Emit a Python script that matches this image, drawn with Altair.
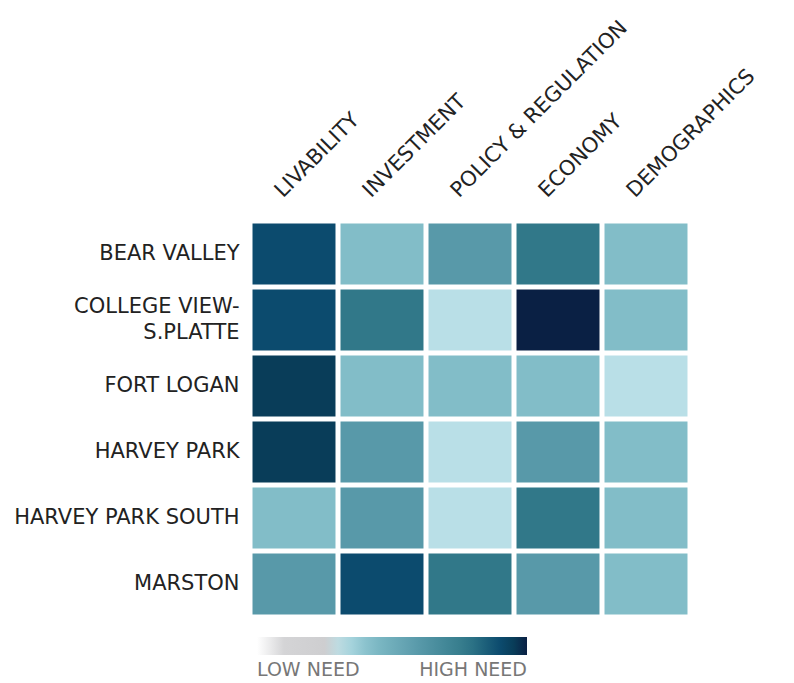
import altair as alt
import pandas as pd

neighborhoods = ["BEAR VALLEY", "COLLEGE VIEW-\nS.PLATTE", "FORT LOGAN",
                 "HARVEY PARK", "HARVEY PARK SOUTH", "MARSTON"]
dimensions = ["LIVABILITY", "INVESTMENT", "POLICY & REGULATION", "ECONOMY", "DEMOGRAPHICS"]

# need score (0 = low need, 100 = high need), read against the legend gradient
livability = [90, 90, 95, 95, 42, 60]
investment = [42, 78, 42, 60, 60, 90]
policy = [60, 31, 42, 31, 31, 78]
economy = [78, 100, 42, 60, 78, 60]
demographics = [42, 42, 31, 42, 42, 42]

series = [livability, investment, policy, economy, demographics]
rows = []
for dim, vals in zip(dimensions, series):
    for hood, v in zip(neighborhoods, vals):
        rows.append({"neighborhood": hood, "dimension": dim, "need": v})
df = pd.DataFrame(rows)

FONT = "DejaVu Sans"

color_domain = [0, 10, 27, 31, 42, 60, 78, 90, 95, 100]
color_range = ["#FFFFFF", "#D4D4D6", "#CDCDCF", "#B9DFE7", "#82BDC8", "#5899A9",
               "#317889", "#0C4B6E", "#093D59", "#0A2044"]

chart = alt.Chart(df).mark_rect().encode(
    x=alt.X("dimension:N", sort=dimensions, title=None,
            scale=alt.Scale(paddingInner=0.057, paddingOuter=0.0285),
            axis=alt.Axis(orient="top", labelAngle=-45, labelAlign="left",
                          labelBaseline="alphabetic", labelOffset=-11, labelPadding=23,
                          ticks=False, domain=False, labelFont=FONT, labelFontSize=21,
                          labelColor="#222222", labelLimit=400)),
    y=alt.Y("neighborhood:N", sort=neighborhoods, title=None,
            scale=alt.Scale(paddingInner=0.076, paddingOuter=0.038),
            axis=alt.Axis(ticks=False, domain=False, labelFont=FONT, labelFontSize=21,
                          labelColor="#222222", labelPadding=11, labelLimit=400,
                          labelLineHeight=26,
                          labelOffset={"condition": {"test": "indexof(datum.value, 'S.PLATTE') >= 0",
                                                     "value": -13}, "value": 0},
                          labelExpr="split(datum.label, '\\n')")),
    color=alt.Color("need:Q",
                    scale=alt.Scale(domain=color_domain, range=color_range, interpolate="rgb"),
                    legend=alt.Legend(orient="none", legendX=7, legendY=416,
                                      direction="horizontal", gradientLength=270,
                                      gradientThickness=18, title=None,
                                      values=[0, 100],
                                      labelExpr="datum.value == 0 ? 'LOW NEED' : 'HIGH NEED'",
                                      labelFont=FONT, labelFontSize=19, labelColor="#777777",
                                      labelOffset=6, gradientStrokeWidth=0)),
).properties(width=440, height=396,
             padding={"left": 5, "top": 8, "right": 5, "bottom": 0}).configure_view(stroke=None)

chart.save("out.html", embed_options={"renderer": "svg", "actions": False})
